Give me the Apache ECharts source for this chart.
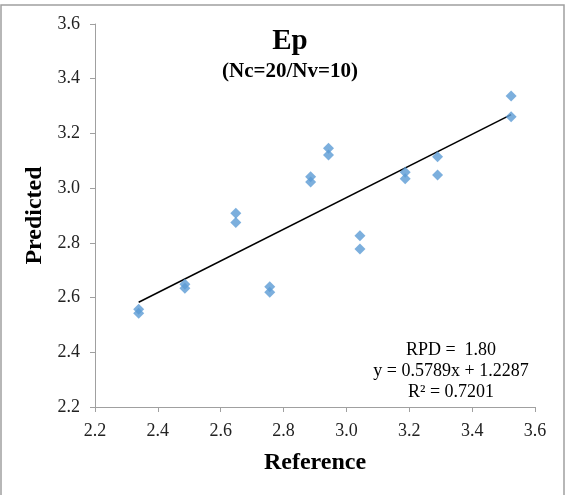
<!DOCTYPE html>
<html>
<head>
<meta charset="utf-8">
<script src="https://cdn.jsdelivr.net/npm/echarts@6/dist/echarts.min.js"></script>
<style>html,body{margin:0;padding:0;background:#fff;}#c{width:566px;height:495px;}</style>
</head>
<body>
<div id="c"></div>
<script>
// Data
var reference = [2.339, 2.339, 2.486, 2.486, 2.648, 2.648, 2.756, 2.756, 2.886, 2.886,
                 2.943, 2.943, 3.043, 3.043, 3.187, 3.187, 3.290, 3.290, 3.524, 3.524];
var predicted = [2.557, 2.543, 2.649, 2.634, 2.908, 2.874, 2.640, 2.619, 3.042, 3.022,
                 3.146, 3.121, 2.826, 2.778, 3.058, 3.034, 3.115, 3.048, 3.337, 3.261];
var slope = 0.5789;
var intercept = 1.2287;
var titleText = 'Ep';
var subtitleText = '(Nc=20/Nv=10)';
var statLines = ['RPD =  1.80', 'y = 0.5789x + 1.2287', 'R\u00B2 = 0.7201'];
var axisMin = 2.2, axisMax = 3.6, axisStep = 0.2;

var FONT = '"Times New Roman", "Liberation Serif", serif';
var points = reference.map(function (x, i) { return [x, predicted[i]]; });
var xLo = Math.min.apply(null, reference), xHi = Math.max.apply(null, reference);
var trend = [[xLo, slope * xLo + intercept], [xHi, slope * xHi + intercept]];

var chart = echarts.init(document.getElementById('c'), null, {renderer: 'canvas'});
chart.setOption({
  animation: false,
  backgroundColor: '#fff',
  title: {
    text: titleText,
    subtext: subtitleText,
    left: 285,
    top: 22,
    textAlign: 'center',
    itemGap: 5,
    textStyle: {fontFamily: FONT, fontWeight: 'bold', fontSize: 29, color: '#000'},
    subtextStyle: {fontFamily: FONT, fontWeight: 'bold', fontSize: 21, color: '#000'}
  },
  grid: {left: 95, right: 31, top: 24, bottom: 88, containLabel: false},
  xAxis: {
    type: 'value', min: axisMin, max: axisMax, interval: axisStep,
    name: 'Reference', nameLocation: 'middle', nameGap: 44,
    nameTextStyle: {fontFamily: FONT, fontWeight: 'bold', fontSize: 24, color: '#000'},
    axisLine: {show: true, lineStyle: {color: '#A0A0A0', width: 1}},
    axisTick: {show: true, length: 5, lineStyle: {color: '#A0A0A0'}},
    splitLine: {show: false},
    axisLabel: {fontFamily: FONT, fontSize: 18, color: '#222', margin: 15,
      formatter: function (v) { return v.toFixed(1); }}
  },
  yAxis: {
    type: 'value', min: axisMin, max: axisMax, interval: axisStep,
    name: 'Predicted', nameLocation: 'middle', nameGap: 46, nameRotate: 90,
    nameTextStyle: {fontFamily: FONT, fontWeight: 'bold', fontSize: 24, color: '#000'},
    axisLine: {show: true, lineStyle: {color: '#A0A0A0', width: 1}},
    axisTick: {show: true, length: 5, lineStyle: {color: '#A0A0A0'}},
    splitLine: {show: false},
    axisLabel: {fontFamily: FONT, fontSize: 18, color: '#222', margin: 15,
      formatter: function (v) { return v.toFixed(1); }}
  },
  graphic: [
    {type: 'rect', shape: {x: 1, y: 5, width: 563, height: 500}, silent: true,
     style: {fill: 'none', stroke: '#A0A0A0', lineWidth: 1.5}},
    {type: 'text', x: 451, y: 371, silent: true,
     style: {text: statLines.join('\n'), fontFamily: FONT, fontSize: 18, fill: '#000',
             align: 'center', verticalAlign: 'middle', lineHeight: 21}}
  ],
  series: [
    {type: 'line', data: trend, symbol: 'none', silent: true,
     lineStyle: {color: '#000', width: 1.5}, z: 2},
    {type: 'scatter', data: points, symbol: 'diamond', symbolSize: 11,
     itemStyle: {color: '#5B9BD5'}, z: 3}
  ]
});
</script>
</body>
</html>
